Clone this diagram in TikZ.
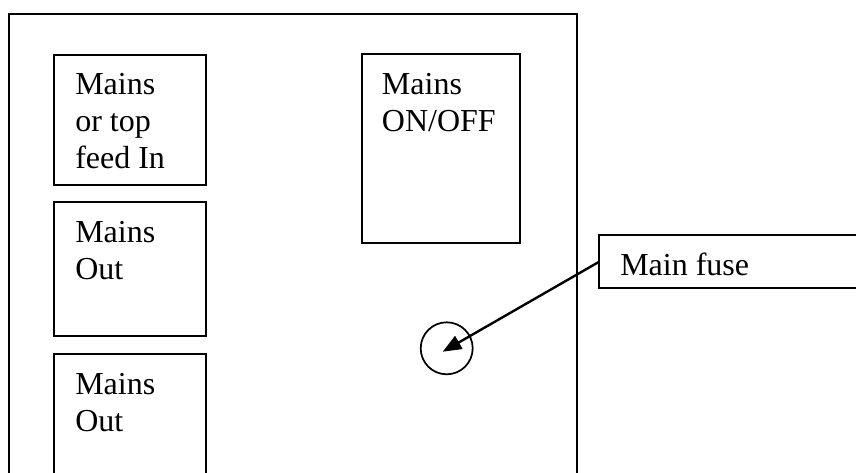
\documentclass[tikz,border=0pt]{standalone}
\usepackage{fontspec}
\setmainfont{Liberation Serif}
\usetikzlibrary{arrows.meta}
\begin{document}
\begin{tikzpicture}[x=0.75pt,y=-0.75pt,
  box/.style={draw,line width=1.5pt,inner sep=0pt,outer sep=0pt,anchor=north west},
  lbl/.style={anchor=base west,inner sep=0pt,align=left,font=\fontsize{24}{27.7}\selectfont},
  ptr/.style={-{Triangle[length=14pt,width=11pt]},line width=1.8pt}]
\useasboundingbox (0,0) rectangle (856,472);
\begin{scope}
\clip (0,0) rectangle (856,472);
\node[box,minimum width=426pt,minimum height=380pt] (frame) at (9,13.5) {};
\node[box,minimum width=114pt,minimum height=97.5pt] (feedin) at (54,55) {};
\node[box,minimum width=114.4pt,minimum height=100.3pt] (outa) at (53.5,202.3) {};
\node[box,minimum width=114.4pt,minimum height=124.5pt] (outb) at (53.5,354) {};
\node[box,minimum width=118.7pt,minimum height=141.5pt] (onoff) at (361.7,54.3) {};
\node[box,minimum width=225pt,minimum height=40pt] (fusebox) at (599.3,235) {};
\node[draw,circle,line width=1.3pt,minimum size=39pt,inner sep=0pt] (fuse) at (446.7,348.3) {};
\node[lbl] (tfeed) at (75,168) {Mains\\or top\\feed In};
\node[lbl] (tonoff) at (381.7,131.7) {Mains\\ON/OFF};
\node[lbl] (touta) at (75,279) {Mains\\Out};
\node[lbl] (toutb) at (75,431.7) {Mains\\Out};
\node[lbl] (tfuse) at (620,275) {Main fuse};
\coordinate (tip) at (442.7,351.7);
\draw[ptr] (fusebox.west) -- (tip);
\end{scope}
\end{tikzpicture}
\end{document}
